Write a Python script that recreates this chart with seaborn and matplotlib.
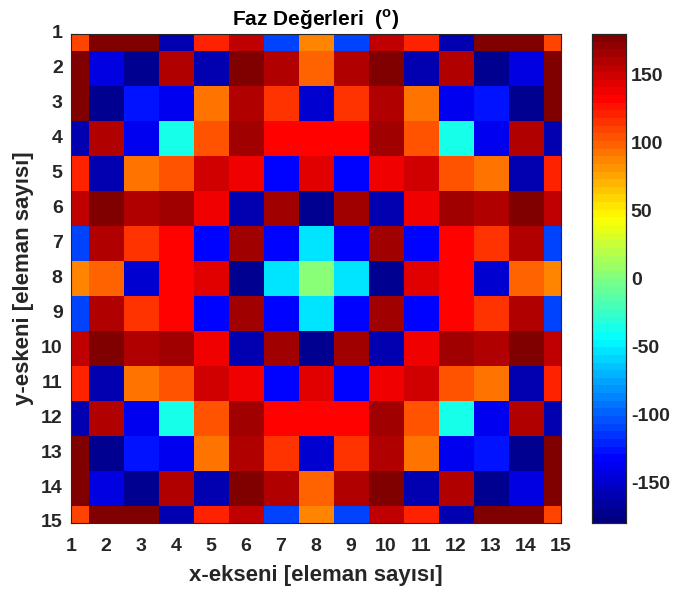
import numpy as np
import seaborn as sns
import matplotlib
matplotlib.use("Agg")
import matplotlib.pyplot as plt
from matplotlib.colors import ListedColormap

# eleman indeksleri (1..15)
x_labels = [str(i) for i in range(1, 16)]
y_labels = [str(i) for i in range(1, 16)]
cbar_ticks = [-150, -100, -50, 0, 50, 100, 150]

# faz degerleri (derece), satir = y, sutun = x
row_01 = [112, 178, 178, -162, 122, 155, -108, 88, -108, 155, 122, -162, 178, 178, 112]
row_02 = [178, -145, -172, 158, -162, 178, 158, 100, 158, 178, -162, 158, -172, -145, 178]
row_03 = [178, -172, -128, -138, 90, 163, 117, -150, 117, 163, 90, -138, -128, -172, 178]
row_04 = [-162, 158, -138, -36, 106, 168, 130, 130, 130, 168, 106, -36, -138, 158, -162]
row_05 = [122, -162, 90, 106, 148, 135, -130, 145, -130, 135, 148, 106, 90, -162, 122]
row_06 = [155, 178, 163, 168, 135, -160, 168, -170, 168, -160, 135, 168, 163, 178, 155]
row_07 = [-108, 158, 117, 130, -130, 168, -135, -54, -135, 168, -130, 130, 117, 158, -108]
row_08 = [88, 100, -150, 130, 145, -170, -54, 0, -54, -170, 145, 130, -150, 100, 88]
row_09 = [-108, 158, 117, 130, -130, 168, -135, -54, -135, 168, -130, 130, 117, 158, -108]
row_10 = [155, 178, 163, 168, 135, -160, 168, -170, 168, -160, 135, 168, 163, 178, 155]
row_11 = [122, -162, 90, 106, 148, 135, -130, 145, -130, 135, 148, 106, 90, -162, 122]
row_12 = [-162, 158, -138, -36, 106, 168, 130, 130, 130, 168, 106, -36, -138, 158, -162]
row_13 = [178, -172, -128, -138, 90, 163, 117, -150, 117, 163, 90, -138, -128, -172, 178]
row_14 = [178, -145, -172, 158, -162, 178, 158, 100, 158, 178, -162, 158, -172, -145, 178]
row_15 = [112, 178, 178, -162, 122, 155, -108, 88, -108, 155, 122, -162, 178, 178, 112]

faz = np.array([row_01, row_02, row_03, row_04, row_05, row_06, row_07, row_08,
                row_09, row_10, row_11, row_12, row_13, row_14, row_15])

# matlab tarzi jet(64)
xs = np.linspace(0, 1, 64)
r = np.clip(np.minimum(4 * xs - 1.5, -4 * xs + 4.5), 0, 1)
g = np.clip(np.minimum(4 * xs - 0.5, -4 * xs + 3.5), 0, 1)
b = np.clip(np.minimum(4 * xs + 0.5, -4 * xs + 2.5), 0, 1)
jet64 = ListedColormap(np.column_stack([r, g, b]))

sns.set_style("white")
plt.rcParams['font.family'] = ['Liberation Sans', 'DejaVu Sans']
plt.rcParams['font.weight'] = 'bold'
plt.rcParams['mathtext.fontset'] = 'custom'
plt.rcParams['mathtext.rm'] = 'Liberation Sans:bold'
plt.rcParams['mathtext.bf'] = 'Liberation Sans:bold'

grey = '#262626'

fig = plt.figure(figsize=(6.75, 5.99), dpi=100)
ax = fig.add_axes([0.1052, 0.1269, 0.726, 0.8164])
cax = fig.add_axes([0.877, 0.1269, 0.0504, 0.8164])

sns.heatmap(faz, ax=ax, cbar_ax=cax, cmap=jet64, vmin=-180, vmax=180,
            linewidths=0, cbar_kws={'ticks': cbar_ticks})

# kenar hucreler yarim gorunsun (matlab eksen sinirlari 1..15)
ax.set_xlim(0.5, 14.5)
ax.set_ylim(14.5, 0.5)
ax.set_xticks(np.arange(15) + 0.5)
ax.set_xticklabels(x_labels, rotation=0)
ax.set_yticks(np.arange(15) + 0.5)
ax.set_yticklabels(y_labels, rotation=0)
ax.tick_params(direction='in', length=4, width=0.8, colors=grey, labelsize=14,
               top=True, right=True, bottom=True, left=True)
ax.tick_params(axis='x', pad=11)
ax.tick_params(axis='y', pad=6)
for lab in ax.get_xticklabels() + ax.get_yticklabels():
    lab.set_fontweight('bold')
for s in ax.spines.values():
    s.set_visible(True)
    s.set_color(grey)
    s.set_linewidth(0.8)

ax.set_xlabel('x-ekseni [eleman sayısı]', fontsize=16, fontweight='bold', color=grey, labelpad=7)
ax.set_ylabel('y-eskeni [eleman sayısı]', fontsize=16, fontweight='bold', color=grey, labelpad=5)
ax.set_title('Faz Değerleri  ($^{\\mathrm{o}}$)', fontsize=15, fontweight='bold', color='black', pad=6)

cax.tick_params(direction='in', length=4, width=0.8, colors=grey, labelsize=14)
for lab in cax.get_yticklabels():
    lab.set_fontweight('bold')
cax.set_yticklabels([str(t) for t in cbar_ticks])
for s in cax.spines.values():
    s.set_visible(True)
    s.set_color(grey)
    s.set_linewidth(0.8)

fig.savefig('out.png', dpi=100)
